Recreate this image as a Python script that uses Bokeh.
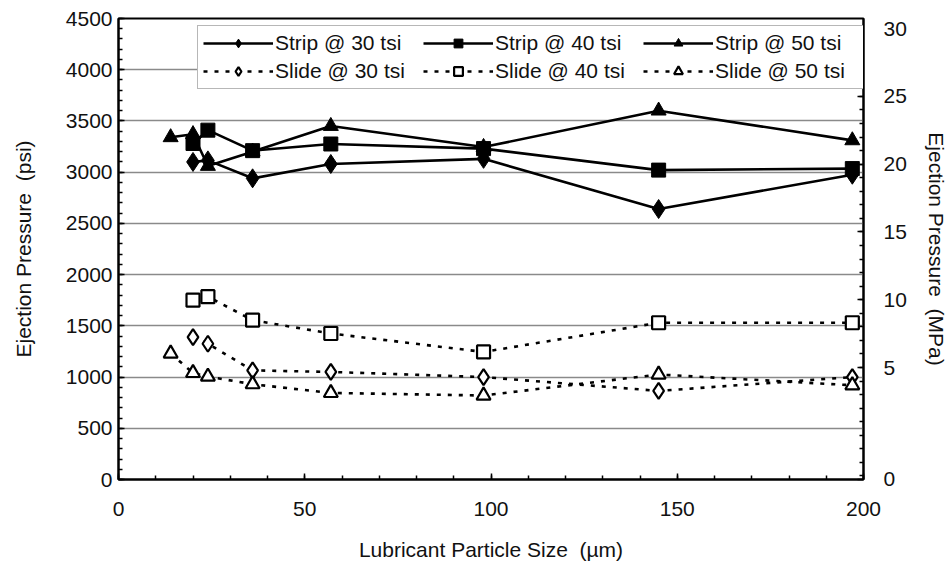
from bokeh.plotting import figure
from bokeh.models import (Range1d, LinearAxis, SingleIntervalTicker, FixedTicker,
                          Legend, LegendItem)
from bokeh.embed import file_html
from bokeh.resources import INLINE

# ---- data ----
size_7 = [20, 24, 36, 57, 98, 145, 197]
size_8 = [14, 20, 24, 36, 57, 98, 145, 197]

strip_30 = [3100, 3115, 2940, 3080, 3130, 2640, 2975]
strip_40 = [3280, 3410, 3210, 3275, 3230, 3020, 3035]
strip_50 = [3340, 3370, 3060, 3200, 3450, 3245, 3600, 3310]

slide_30 = [1390, 1325, 1065, 1050, 1000, 865, 1000]
slide_40 = [1750, 1785, 1555, 1425, 1245, 1530, 1530]
slide_50 = [1230, 1040, 1005, 930, 845, 820, 1025, 920]

series_labels = ["Strip @ 30 tsi", "Strip @ 40 tsi", "Strip @ 50 tsi",
                 "Slide @ 30 tsi", "Slide @ 40 tsi", "Slide @ 50 tsi"]

NB = "\u00a0"
x_label = "Lubricant Particle Size" + NB + NB + "(\u00b5m)"
y_left_label = "Ejection Pressure" + NB + NB + "(psi)"
y_right_label = "Ejection Pressure" + NB + NB + "(MPa)"
mpa_labels = [0, 5, 10, 15, 20, 25, 30]

FONT = "Liberation Sans"
TXT = "#111111"
FS = "21px"

p = figure(width=950, height=569, output_backend="svg", toolbar_location=None,
           x_range=Range1d(0, 200), y_range=Range1d(0, 4500),
           min_border_left=118, min_border_right=84, min_border_top=18,
           min_border_bottom=90, background_fill_color="white",
           border_fill_color="white")

p.outline_line_color = "black"
p.outline_line_width = 2

p.xgrid.visible = False
p.ygrid.grid_line_color = "#8a8a8a"
p.ygrid.grid_line_width = 1.5
p.ygrid.ticker = SingleIntervalTicker(interval=500)

ya = p.yaxis[0]
ya.ticker = SingleIntervalTicker(interval=500, num_minor_ticks=5)
ya.axis_label = y_left_label
xa = p.xaxis[0]
xa.ticker = SingleIntervalTicker(interval=50, num_minor_ticks=5)
xa.axis_label = x_label

for ax in (xa, ya):
    ax.axis_line_width = 2
    ax.axis_line_color = "black"
    ax.major_tick_in = 6
    ax.major_tick_out = 0
    ax.minor_tick_in = 4
    ax.minor_tick_out = 0
    ax.major_tick_line_color = "black"
    ax.minor_tick_line_color = "black"
    ax.major_tick_line_width = 1.5
    ax.minor_tick_line_width = 1.5
    ax.major_label_text_font = FONT
    ax.major_label_text_font_size = FS
    ax.major_label_text_color = TXT
    ax.axis_label_text_font = FONT
    ax.axis_label_text_font_size = FS
    ax.axis_label_text_font_style = "normal"
    ax.axis_label_text_color = TXT

ya.major_label_standoff = 6
ya.axis_label_standoff = 28
xa.major_label_standoff = 22
xa.axis_label_standoff = 19

# right axis (MPa); label placement follows the reference figure
mpa_lo, mpa_hi = -3.26, 30.74
p.extra_y_ranges = {"mpa": Range1d(mpa_lo, mpa_hi)}
mpa_tick_pos = [-3.25 if v == 0 else v for v in mpa_labels]
ra = LinearAxis(y_range_name="mpa",
                ticker=FixedTicker(ticks=mpa_tick_pos,
                                   minor_ticks=list(range(-3, 31))))
ra.major_label_overrides = {pos: str(v) for pos, v in zip(mpa_tick_pos, mpa_labels)}
ra.axis_label = y_right_label
ra.axis_line_width = 2
ra.axis_line_color = "black"
ra.major_tick_in = 6
ra.major_tick_out = 0
ra.minor_tick_in = 4
ra.minor_tick_out = 0
ra.major_tick_line_width = 1.5
ra.minor_tick_line_width = 1.5
ra.major_label_text_font = FONT
ra.major_label_text_font_size = FS
ra.major_label_text_color = TXT
ra.axis_label_text_font = FONT
ra.axis_label_text_font_size = FS
ra.axis_label_text_font_style = "normal"
ra.axis_label_text_color = TXT
ra.major_label_standoff = 20
ra.axis_label_standoff = 15
p.add_layout(ra, "right")

# ---- series ----
items = []

def add_series(xs, ys, label, marker, size, filled):
    dash = "solid" if filled else "4 7"
    ln = p.line(xs, ys, line_color="black", line_width=2.6, line_dash=dash)
    sc = p.scatter(xs, ys, marker=marker, size=size, line_color="black",
                   line_width=2.2 if not filled else 1,
                   fill_color="black" if filled else "white")
    items.append(LegendItem(label=label, renderers=[ln, sc]))

add_series(size_7, strip_30, series_labels[0], "diamond", 19, True)
add_series(size_7, strip_40, series_labels[1], "square", 14, True)
add_series(size_8, strip_50, series_labels[2], "triangle", 15, True)
add_series(size_7, slide_30, series_labels[3], "diamond", 16, False)
add_series(size_7, slide_40, series_labels[4], "square", 13, False)
add_series(size_8, slide_50, series_labels[5], "triangle", 14, False)

legend = Legend(items=items, location=(79, 390), orientation="horizontal",
                nrows=2)
legend.margin = 0
legend.padding = 5
legend.spacing = 4
legend.glyph_width = 70
legend.glyph_height = 22
legend.label_standoff = 2
legend.label_width = 144
legend.label_text_font = FONT
legend.label_text_font_size = FS
legend.label_text_color = TXT
legend.border_line_color = "#707070"
legend.border_line_width = 1.5
legend.background_fill_alpha = 1
p.add_layout(legend)

open("out.html", "w").write(file_html(p, INLINE))
